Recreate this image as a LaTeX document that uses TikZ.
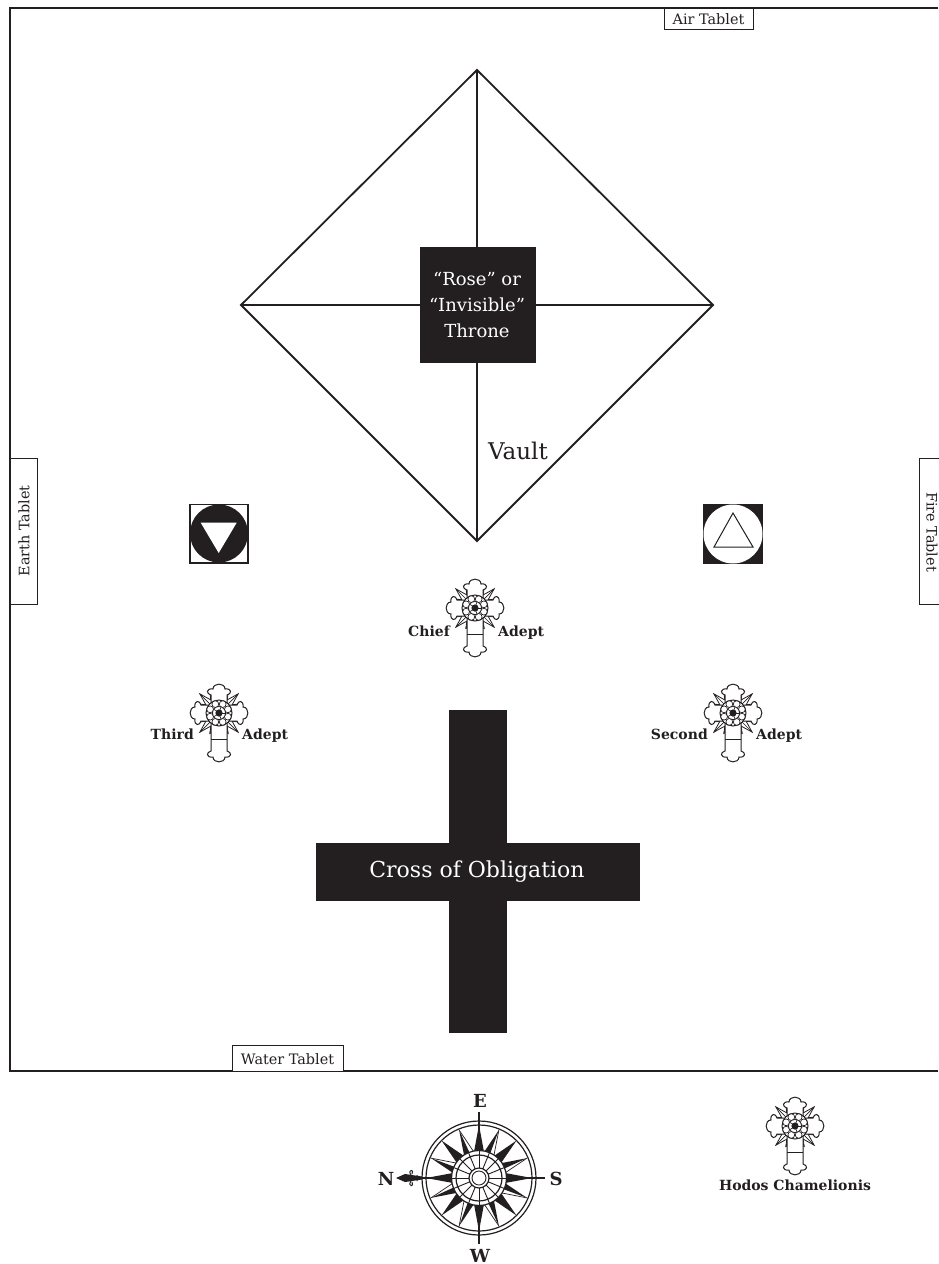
\documentclass[tikz,border=0pt]{standalone}
\usepackage{fontspec}
\setmainfont{DejaVu Serif}
\definecolor{ink}{HTML}{231F20}
\tikzset{
 x=1pt,y=-1pt,
 wall/.style={draw=ink,line width=2pt},
 thin line/.style={draw=ink,line width=1.8pt},
 tablet/.style={draw=ink,fill=white,line width=1pt},
 tablettext/.style={text=ink,inner sep=0pt,font=\fontsize{14.4}{16}\selectfont},
 whitetext/.style={text=white,inner sep=0pt,align=center},
 adept/.style={text=ink,inner sep=0pt,font=\bfseries\fontsize{14}{16}\selectfont},
 compassletter/.style={text=ink,inner sep=0pt,font=\bfseries\fontsize{18}{20}\selectfont},
 rosecross/.pic={
  \foreach \a in {45,135,225,315}{
   \begin{scope}[rotate=\a]
    \draw[draw=ink,line width=.8pt,fill=white,line join=miter]
     (11,-11.3) -- (21,-8) -- (15,-3.5) -- (27,0) -- (15,3.5) -- (21,8) -- (11,11.3) -- cycle;
    \draw[draw=ink,line width=.7pt] (13,0) -- (27,0) (12,-4) -- (21,-8) (12,4) -- (21,8);
   \end{scope}}
  \foreach \a/\l in {0/18,90/18,270/18,180/38}{
   \begin{scope}[rotate=\a]
    \draw[draw=ink,line width=1pt,fill=white]
     (-8,-8) -- (-8,-\l) .. controls (-13,-\l-1) and (-13,-\l-7) .. (-6,-\l-6)
     .. controls (-6,-\l-12.5) and (6,-\l-12.5) .. (6,-\l-6)
     .. controls (13,-\l-7) and (13,-\l-1) .. (8,-\l) -- (8,-8);
   \end{scope}}
  \draw[draw=ink,line width=1pt] (-8,26) -- (8,26);
  \draw[draw=ink,line width=1pt,fill=white] (0,0) circle[radius=13];
  \foreach \a in {0,45,...,315}{
   \draw[draw=ink,line width=.7pt,fill=white] (\a+22.5:9.6) circle[radius=3.4];}
  \draw[draw=ink,line width=.8pt,fill=white] (0,0) circle[radius=6.5];
  \foreach \a in {0,72,...,288}{\draw[draw=ink,line width=.6pt] (\a:3) -- (\a:6.5);}
  \fill[ink] (0,0) circle[radius=3.6];
 }
}
\begin{document}
\begin{tikzpicture}
\useasboundingbox (0,0) rectangle (938,1264);
\fill[white] (0,0) rectangle (938,1264);
% room
\draw[wall] (938,8) -- (10,8) -- (10,1071) -- (938,1071);
% tablets
\draw[tablet] (664,8) rectangle (753,29);
\node[tablettext] (air) at (708.5,19) {Air Tablet};
\draw[tablet] (232,1045) rectangle (343,1071);
\node[tablettext] (water) at (287.5,1059) {Water Tablet};
\draw[tablet] (10,458) rectangle (37,604);
\node[tablettext,rotate=90] (earth) at (24,531) {Earth Tablet};
\draw[tablet] (939,458) -- (919,458) -- (919,604) -- (939,604);
\node[tablettext,rotate=-90] (fire) at (932,532) {Fire Tablet};
% vault
\coordinate (vt) at (477,70);
\coordinate (vl) at (241,305);
\coordinate (vr) at (713,305);
\coordinate (vb) at (477,541);
\draw[thin line,line join=miter] (vt) -- (vr) -- (vb) -- (vl) -- cycle (vt) -- (vb) (vl) -- (vr);
\fill[ink] (420,247) rectangle (536,363);
\node[whitetext,font=\fontsize{18}{26}\selectfont] (throne) at (477,305) {“Rose” or\\“Invisible”\\Throne};
\node[text=ink,inner sep=0pt,font=\fontsize{23}{26}\selectfont] (vault) at (518,451) {Vault};
% earth symbol
\draw[draw=ink,line width=1.3pt] (190,504.5) rectangle (248,563);
\fill[ink] (219,533.5) circle[radius=29];
\fill[white] (200.7,522.7) -- (236.7,522.7) -- (218.7,553) -- cycle;
% fire symbol
\fill[ink] (703,504) rectangle (763,564);
\fill[white] (733,534) circle[radius=29.5];
\draw[draw=ink,line width=1pt,line join=miter] (733,513) -- (714,547) -- (753,547) -- cycle;
% crosses
\pic at (475,608) {rosecross};
\node[adept,anchor=base east] (chief) at (450,636) {Chief};
\node[adept,anchor=base west] (cadept) at (498,636) {Adept};
\pic at (219,713) {rosecross};
\node[adept,anchor=base east] (third) at (194,739) {Third};
\node[adept,anchor=base west] (tadept) at (242,739) {Adept};
\pic at (733,713) {rosecross};
\node[adept,anchor=base east] (second) at (708,739) {Second};
\node[adept,anchor=base west] (sadept) at (756,739) {Adept};
\pic at (795,1126) {rosecross};
\node[adept] (hodos) at (795,1185) {Hodos Chamelionis};
% cross of obligation
\fill[ink] (449,710) rectangle (507,1033);
\fill[ink] (316,843) rectangle (640,901);
\node[whitetext,font=\fontsize{22}{26}\selectfont] (obligation) at (477,872) {Cross of Obligation};
% compass
\begin{scope}[shift={(479,1178)}]
 \draw[draw=ink,line width=1.2pt] (0,0) circle[radius=57];
 \draw[draw=ink,line width=1.2pt] (0,0) circle[radius=53];
 \foreach \a in {22.5,67.5,...,337.5}{
  \draw[draw=ink,line width=.7pt] (\a:52) -- (\a+11:27);
  \fill[ink] (\a:52) -- (\a+2:27) -- (\a-11:27) -- cycle;}
 \foreach \a in {0,45,...,315}{
  \fill[ink] (\a:53) -- (\a+10.5:27) -- (\a-10.5:27) -- cycle;}
 \draw[draw=ink,line width=1.2pt] (0,-66) -- (0,66) (-66,0) -- (66,0);
 \draw[draw=ink,line width=1.2pt,fill=white] (0,0) circle[radius=27.5];
 \draw[draw=ink,line width=1.2pt] (0,0) circle[radius=23];
 \foreach \a in {0,22.5,...,337.5}{\draw[draw=ink,line width=.9pt] (\a:10) -- (\a:27);}
 \draw[draw=ink,line width=1.2pt,fill=white] (0,0) circle[radius=10];
 \draw[draw=ink,line width=.9pt] (0,0) circle[radius=7];
 % fleur
 \fill[ink] (-83,0) -- (-74,-4) -- (-57,-1.5) -- (-57,1.5) -- (-74,4) -- cycle;
 \draw[draw=ink,line width=1pt] (-68,-3) .. controls (-72,-9) and (-64,-9) .. (-67,-4)
   (-68,3) .. controls (-72,9) and (-64,9) .. (-67,4) (-62,-3) -- (-62,3);
\end{scope}
\node[compassletter,anchor=base] (e) at (480,1107) {E};
\node[compassletter,anchor=base] (s) at (556,1185) {S};
\node[compassletter,anchor=base] (n) at (386,1185) {N};
\node[compassletter,anchor=base] (w) at (480,1262) {W};
\end{tikzpicture}
\end{document}
